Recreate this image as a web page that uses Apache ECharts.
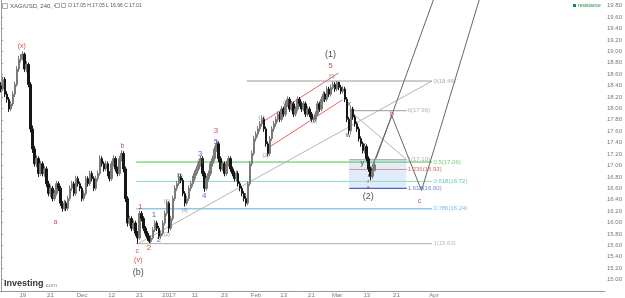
<!DOCTYPE html>
<html>
<head>
<meta charset="utf-8">
<script src="https://cdn.jsdelivr.net/npm/echarts@6/dist/echarts.min.js"></script>
<style>
  html, body { margin: 0; padding: 0; background: #fff; }
  #main { width: 625px; height: 298px; }
</style>
</head>
<body>
<div id="main"></div>
<script>
// ---------------- data ----------------
// 240-minute XAG/USD bars (one slot per bar group)
const slots = 306;
const firstOpen = 18.40;
const closes = [
  18.34,18.51,18.25,18.16,17.99,18.08,18.25,18.42,18.69,18.86,
  18.89,18.95,18.69,18.77,18.42,17.64,17.29,17.03,17.12,16.86,
  17.03,16.86,16.94,16.68,16.51,16.60,16.42,16.51,16.68,16.60,
  16.34,16.25,16.34,16.25,16.42,16.60,16.68,16.51,16.77,16.68,
  16.60,16.42,16.51,16.77,16.68,16.86,16.77,16.60,16.77,16.86,
  17.12,17.03,16.94,17.03,16.86,16.77,17.03,17.12,16.94,16.86,
  17.12,17.21,16.94,16.42,15.99,16.07,15.90,15.99,15.81,15.73,
  16.16,16.07,15.90,15.81,15.73,15.67,15.73,15.87,15.99,15.90,
  15.76,15.81,15.99,16.16,16.34,15.90,16.07,16.42,16.60,16.68,
  16.81,16.74,16.51,16.34,16.42,16.60,16.68,16.77,16.86,16.94,
  17.03,17.12,16.86,16.60,16.77,16.86,17.03,17.12,17.29,17.38,
  17.12,16.94,17.03,16.86,17.03,17.12,16.94,16.86,16.77,16.86,
  16.68,16.60,16.51,16.42,16.34,16.68,17.03,17.21,17.47,17.55,
  17.64,17.73,17.81,17.64,17.38,17.21,17.47,17.64,17.73,17.81,
  17.90,17.81,17.99,17.90,18.08,18.16,17.99,18.08,17.90,17.99,
  18.16,18.08,17.99,18.08,17.90,17.99,17.90,17.81,17.81,17.90,
  18.08,17.99,18.16,18.25,18.16,18.34,18.25,18.37,18.42,18.34,
  18.46,18.37,18.30,18.34,18.16,17.81,17.61,17.99,17.85,17.73,
  17.64,17.47,17.38,17.26,17.33,17.12,16.94,16.81,16.91,17.01
];
const lows = [
  18.28,18.30,18.20,18.10,17.94,17.95,18.04,18.20,18.38,18.64,
  18.80,18.84,18.64,18.63,18.37,17.58,17.22,16.98,16.97,16.80,
  16.82,16.81,16.80,16.62,16.46,16.45,16.37,16.38,16.47,16.55,
  16.29,16.19,16.21,16.20,16.21,16.38,16.55,16.46,16.47,16.63,
  16.55,16.37,16.38,16.47,16.63,16.64,16.72,16.55,16.56,16.72,
  16.82,16.98,16.89,16.90,16.81,16.72,16.73,16.98,16.89,16.81,
  16.82,17.07,16.88,16.36,15.93,15.94,15.85,15.86,15.76,15.63,
  15.70,16.02,15.85,15.76,15.68,15.64,15.64,15.70,15.83,15.85,
  15.71,15.72,15.77,15.95,16.12,15.82,15.86,16.03,16.38,16.55,
  16.64,16.69,16.46,16.28,16.30,16.38,16.55,16.63,16.72,16.82,
  16.90,16.98,16.81,16.54,16.56,16.72,16.82,16.98,17.08,17.24,
  17.06,16.89,16.90,16.81,16.82,16.98,16.89,16.81,16.72,16.72,
  16.63,16.55,16.46,16.37,16.28,16.30,16.64,16.99,17.17,17.42,
  17.50,17.59,17.68,17.59,17.33,17.16,17.17,17.43,17.59,17.68,
  17.76,17.76,17.77,17.85,17.86,18.03,17.94,17.95,17.85,17.86,
  17.95,18.03,17.94,17.95,17.85,17.86,17.85,17.76,17.75,17.77,
  17.86,17.94,17.95,18.12,18.11,18.12,18.20,18.21,18.33,18.29,
  18.30,18.32,18.25,18.26,18.11,17.76,17.55,17.57,17.80,17.68,
  17.59,17.42,17.33,17.21,17.21,17.07,16.89,16.74,16.77,16.96
];
const highs = [
  18.46,18.56,18.55,18.30,18.20,18.13,18.30,18.47,18.74,18.92,
  18.95,19.00,18.98,18.83,18.80,18.46,17.70,17.34,17.18,17.16,
  17.08,17.07,16.99,16.98,16.73,16.66,16.64,16.57,16.73,16.72,
  16.64,16.38,16.40,16.38,16.47,16.65,16.73,16.72,16.82,16.81,
  16.72,16.64,16.56,16.82,16.81,16.91,16.90,16.81,16.82,16.91,
  17.18,17.16,17.07,17.08,17.07,16.90,17.08,17.18,17.16,16.98,
  17.17,17.27,17.25,16.98,16.46,16.12,16.11,16.04,16.03,15.85,
  16.21,16.20,16.11,15.94,15.85,15.77,15.78,15.92,16.04,16.03,
  15.94,15.86,16.04,16.21,16.39,16.37,16.12,16.47,16.65,16.73,
  16.86,16.85,16.78,16.55,16.47,16.65,16.73,16.82,16.91,16.99,
  17.08,17.17,17.16,16.90,16.82,16.91,17.08,17.17,17.34,17.44,
  17.42,17.16,17.08,17.07,17.08,17.17,17.16,16.98,16.90,16.91,
  16.90,16.72,16.64,16.55,16.46,16.73,17.08,17.26,17.52,17.60,
  17.69,17.78,17.86,17.85,17.68,17.42,17.52,17.69,17.78,17.86,
  17.95,17.94,18.04,18.03,18.13,18.21,18.20,18.13,18.12,18.04,
  18.21,18.20,18.12,18.13,18.12,18.04,18.03,17.94,17.86,17.95,
  18.13,18.12,18.21,18.30,18.29,18.39,18.38,18.42,18.47,18.46,
  18.48,18.46,18.41,18.39,18.38,18.20,17.85,18.04,18.03,17.89,
  17.77,17.68,17.51,17.42,17.38,17.37,17.16,16.98,16.96,17.05
];

// x-axis tick labels: [slot, text]
const dateTicks = [[11,'19'],[25,'21'],[41,'Dec'],[56,'12'],[70,'21'],[85,'2017'],[98,'11'],
  [113,'23'],[129,'Feb'],[143,'13'],[157,'21'],[170,'Mar'],[185,'13'],[200,'21'],[219,'Apr']];

// fibonacci retracement (c -> (1)) and extension of the fall
const retrLevels = ['0', '0.5', '0.618', '0.786', '1'];
const retrPrices = [18.48, 17.06, 16.72, 16.24, 15.63];
const extLevels = ['0', '1', '1.236', '1.618'];
const extPrices = [17.96, 17.10, 16.93, 16.60];
const lastPrice = 17.01;

// wave labels: text, slot, price
const waveTexts = ['(x)','a','b','c','1','2','1','2','(1)','(2)','(3)','(4)','(5)','3','4','5','3','4',
  '(1)','(2)','(3)','(4)','(5)','5','(1)','x','w','x','y','z','a','(2)','b','c','(v)','(b)'];
const waveSlots = [10.5,27.5,61.4,68.9,70.4,74.9,77.4,79.9,83.9,83.9,90.4,92.9,100.8,100.8,102.8,108.8,108.8,123.3,
  131.8,133.8,144.3,158.3,167.2,166.7,166.7,176.2,175.7,183.7,182.7,185.7,185.7,185.7,197.7,211.7,69.4,69.4];
const wavePrices = [19.10,16.00,17.34,15.50,16.28,15.55,16.13,15.69,16.37,15.78,16.82,16.21,17.07,17.21,16.47,17.41,17.61,16.47,
  17.83,17.17,18.11,17.76,18.56,18.75,18.95,18.08,17.54,17.36,17.05,16.72,16.61,16.46,17.90,16.37,15.34,15.13];

// ---------------- styles ----------------
const RED = '#c0201f', BLUE = '#2a3fd0', DARK = '#222', GREY = '#777';
const waveColors = [RED,RED,'#9b1c1c',RED,RED,RED,BLUE,BLUE,GREY,GREY,GREY,GREY,GREY,BLUE,BLUE,BLUE,RED,DARK,
  GREY,GREY,GREY,GREY,GREY,RED,DARK,DARK,DARK,DARK,DARK,GREY,RED,DARK,RED,RED,RED,DARK];
const waveSizes = [7,7,7,7,8,8,8,8,5,5,5,5,5,8,8,8,8,8,5,5,5,5,5,8,9,7,7,7,7,5,5,9,7,7,7,9];
const retrColors = ['#9a9a9a', '#4cc24c', '#8fdcc8', '#5aaee0', '#aaaaaa'];
const extColors = ['#9a9a9a', '#9a9a9a', '#e58a8a', '#4a5fd8'];
const FONT = 'Liberation Sans, Arial, sans-serif';

const chart = echarts.init(document.getElementById('main'));
const cats = Array.from({ length: slots }, (_, i) => String(i));
const ohlc = closes.map((c, i) => [i === 0 ? firstOpen : closes[i - 1], c, lows[i], highs[i]]);
const tickMap = {};
dateTicks.forEach(([i, t]) => { tickMap[i] = t; });

function seg(points, color, width) {
  return {
    type: 'line', xAxisIndex: 1, data: points, symbol: 'none', silent: true,
    lineStyle: { color: color, width: width || 1 }, z: 3, clip: true
  };
}

const series = [];

series.push({
  type: 'candlestick', data: ohlc, barWidth: 2, z: 5,
  itemStyle: { color: '#7a7a7a', color0: '#161616', borderColor: '#7a7a7a', borderColor0: '#161616', borderWidth: 1 },
  markLine: {
    silent: true, symbol: 'none',
    lineStyle: { opacity: 0 },
    label: { position: 'end', formatter: lastPrice.toFixed(2), color: '#fff', backgroundColor: '#000',
      fontSize: 6, fontFamily: FONT, padding: [1, 2], distance: 0 },
    data: [{ yAxis: lastPrice }]
  },
  markArea: {
    silent: true,
    itemStyle: { color: 'rgba(200,220,245,0.55)', borderWidth: 0 },
    data: [[{ coord: [176, extPrices[1]] }, { coord: [205, extPrices[3]] }]]
  }
});

// retracement level lines
retrPrices.forEach((p, k) => {
  series.push(seg([[k === 0 ? 124.3 : 68.4, p], [218, p]], retrColors[k], 1));
});
// retracement trend line
series.push(seg([[69.4, retrPrices[4]], [218, retrPrices[0]]], '#b5b5b5', 1));
// extension level lines
extPrices.forEach((p, k) => {
  series.push(seg([[176.2, p], [205.2, p]], extColors[k], k === 3 ? 1.2 : 1));
});
series.push(seg([[176.7, 17.95], [205.2, extPrices[1]]], '#b5b5b5', 1));

// red channel
series.push(seg([[131.8, 17.75], [170.7, 18.62]], '#f06060', 1));
series.push(seg([[134.3, 17.29], [172.7, 18.15]], '#f06060', 1));

// projected path
series.push(seg([[185.7, 16.80], [197.7, 17.87], [212.7, 16.56], [248, 20.6]], '#666', 1));
series.push(seg([[189.7, 17.12], [226, 20.6]], '#666', 1));

// wave labels
series.push({
  type: 'scatter', xAxisIndex: 1, symbolSize: 0, silent: true, z: 8,
  data: waveTexts.map((t, k) => ({
    value: [waveSlots[k], wavePrices[k]],
    label: { show: true, formatter: t, color: waveColors[k], fontSize: waveSizes[k], position: 'inside', fontFamily: FONT }
  }))
});

// fib labels
series.push({
  type: 'scatter', xAxisIndex: 1, symbolSize: 0, silent: true, z: 8,
  data: retrPrices.map((p, k) => ({
    value: [218.7, p],
    label: { show: true, formatter: retrLevels[k] + '(' + p.toFixed(2) + ')', color: retrColors[k] === '#8fdcc8' ? '#3fb7a0' : retrColors[k],
      fontSize: 6, position: 'right', distance: 0, fontFamily: FONT }
  })).concat(extPrices.map((p, k) => ({
    value: [205.7, p],
    label: { show: true, formatter: extLevels[k] + '(' + p.toFixed(2) + ')', color: k === 2 ? '#d04848' : extColors[k],
      fontSize: 6, position: 'right', distance: 0, fontFamily: FONT }
  })))
});

const option = {
  animation: false,
  backgroundColor: '#fff',
  grid: { left: 0, right: 12, top: 0, bottom: 5, containLabel: false },
  xAxis: [
    {
      type: 'category', data: cats, boundaryGap: true,
      axisLine: { lineStyle: { color: '#999' } },
      axisTick: { interval: (i) => tickMap[i] !== undefined, length: 2, lineStyle: { color: '#999' } },
      axisLabel: { interval: (i) => tickMap[i] !== undefined, formatter: (v, i) => tickMap[i] || '',
        fontSize: 6, color: '#777', margin: 1, fontFamily: FONT },
      splitLine: { show: false }
    },
    { type: 'value', min: -0.5, max: slots - 0.5, show: false }
  ],
  yAxis: {
    type: 'value', position: 'right', min: 14.8, max: 19.9, interval: 0.2, scale: true,
    axisLine: { show: true, lineStyle: { color: '#999' } },
    axisTick: { show: true, length: 2, lineStyle: { color: '#999' } },
    axisLabel: { fontSize: 6, color: '#777', margin: 2, showMinLabel: false, showMaxLabel: false,
      formatter: (v) => v.toFixed(2), fontFamily: FONT },
    splitLine: { show: false }
  },
  graphic: [
    { type: 'rect', left: 2, top: 3, shape: { width: 5, height: 5 }, style: { fill: '#fff', stroke: '#aaa' } },
    { type: 'text', left: 10, top: 3, style: { text: 'XAG/USD, 240, ▾', fill: '#555', font: '6px ' + FONT } },
    { type: 'rect', left: 55, top: 3, shape: { width: 4, height: 4 }, style: { fill: '#fff', stroke: '#aaa' } },
    { type: 'rect', left: 61, top: 3, shape: { width: 4, height: 4 }, style: { fill: '#fff', stroke: '#aaa' } },
    { type: 'text', left: 68, top: 3, style: { text: 'O 17.05 H 17.05 L 16.96 C 17.01', fill: '#555', font: '5px ' + FONT } },
    { type: 'rect', left: 573, top: 4, shape: { width: 3, height: 3 }, style: { fill: '#1c8a3c' } },
    { type: 'text', left: 578, top: 3, style: { text: 'resistance', fill: '#1c8a3c', font: '5px ' + FONT } },
    { type: 'text', left: 4, top: 279, style: { text: 'Investing', fill: '#333', font: 'bold 9px ' + FONT } },
    { type: 'text', left: 44, top: 282, style: { text: '.com', fill: '#888', font: '6px ' + FONT } }
  ],
  series: series
};
chart.setOption(option);
</script>
</body>
</html>
